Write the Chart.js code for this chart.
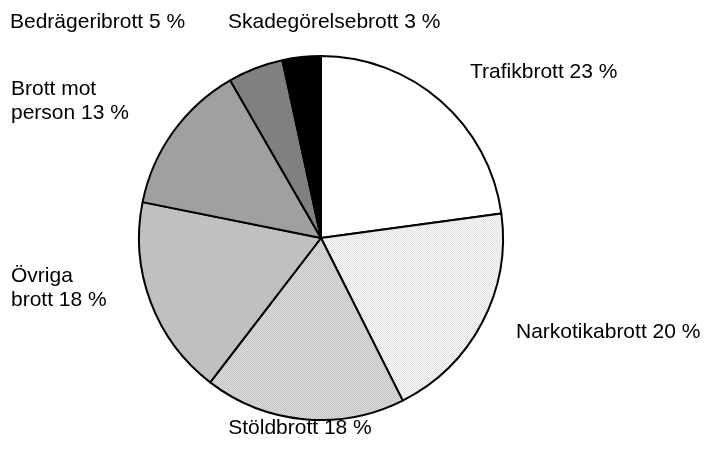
<!DOCTYPE html>
<html>
<head>
<meta charset="utf-8">
<script src="https://cdn.jsdelivr.net/npm/chart.js@4"></script>
<style>
  html, body { margin: 0; padding: 0; background: #fff; }
  #wrap { width: 706px; height: 463px; position: relative; }
</style>
</head>
<body>
<div id="wrap"><canvas id="pieChart" width="706" height="463"></canvas></div>
<script>
const categories = ['Trafikbrott', 'Narkotikabrott', 'Stöldbrott', 'Övriga brott', 'Brott mot person', 'Bedrägeribrott', 'Skadegörelsebrott'];
// slice sizes (labels show the rounded figures)
const shares = [22.8, 19.7, 17.8, 17.7, 13.5, 4.9, 3.4];
const labelLines = [
  ['Trafikbrott 23 %'],
  ['Narkotikabrott 20 %'],
  ['Stöldbrott 18 %'],
  ['Övriga', 'brott 18 %'],
  ['Brott mot', 'person 13 %'],
  ['Bedrägeribrott 5 %'],
  ['Skadegörelsebrott 3 %']
];
// where each label is written (baseline of first line)
const labelPos = [
  { x: 470, y: 78, align: 'left' },
  { x: 516, y: 338, align: 'left' },
  { x: 300, y: 434, align: 'center' },
  { x: 11, y: 282, align: 'left' },
  { x: 11, y: 95, align: 'left' },
  { x: 10, y: 28, align: 'left' },
  { x: 228, y: 28, align: 'left' }
];

// small dotted fills
function dots(a, b) {
  const c = document.createElement('canvas');
  c.width = 2; c.height = 2;
  const g = c.getContext('2d');
  g.fillStyle = a; g.fillRect(0, 0, 2, 2);
  g.fillStyle = b; g.fillRect(0, 0, 1, 1); g.fillRect(1, 1, 1, 1);
  return g.createPattern(c, 'repeat');
}

const fills = [
  '#ffffff',
  dots('#f6f6f6', '#e2e2e2'),
  dots('#dadada', '#c6c6c6'),
  '#c0c0c0',
  '#a0a0a0',
  '#808080',
  '#000000'
];

const labelPlugin = {
  id: 'sliceLabels',
  afterDraw(chart) {
    const ctx = chart.ctx;
    ctx.save();
    ctx.fillStyle = '#000';
    ctx.font = '21px "Liberation Sans", Arial, sans-serif';
    ctx.textBaseline = 'alphabetic';
    labelLines.forEach((lines, i) => {
      const p = labelPos[i];
      ctx.textAlign = p.align;
      lines.forEach((t, j) => ctx.fillText(t, p.x, p.y + j * 24));
    });
    ctx.restore();
  }
};

new Chart(document.getElementById('pieChart').getContext('2d'), {
  type: 'pie',
  data: {
    labels: categories,
    datasets: [{
      data: shares,
      backgroundColor: fills,
      borderColor: '#000',
      borderWidth: 2
    }]
  },
  options: {
    responsive: false,
    animation: false,
    layout: { padding: { left: 138, right: 202, top: 55, bottom: 42 } },
    plugins: {
      legend: { display: false },
      tooltip: { enabled: false }
    }
  },
  plugins: [labelPlugin]
});
</script>
</body>
</html>
